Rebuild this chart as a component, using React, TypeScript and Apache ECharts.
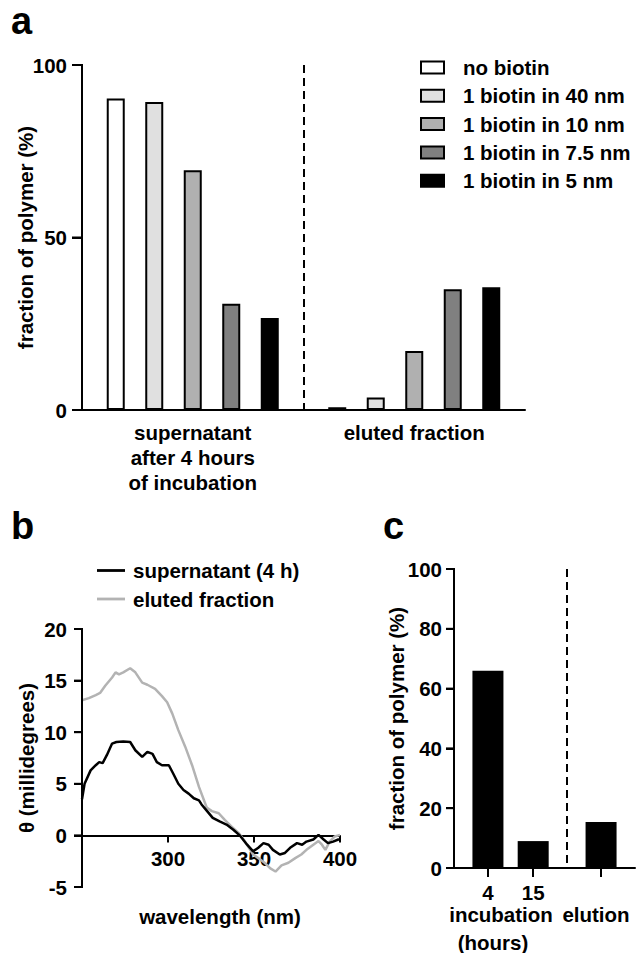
import React, { useEffect, useRef } from 'react';
import * as echarts from 'echarts';

// ---------- panel a ----------
const aCategories = ['supernatant\nafter 4 hours\nof incubation', 'eluted fraction'];
const aSeriesNames = ['no biotin', '1 biotin in 40 nm', '1 biotin in 10 nm', '1 biotin in 7.5 nm', '1 biotin in 5 nm'];
const aNoBiotin = [90.3, 0.8];
const aBiotin40 = [89.3, 3.6];
const aBiotin10 = [69.5, 17.1];
const aBiotin75 = [30.8, 35.0];
const aBiotin5 = [26.7, 35.6];
const aColors = ['#ffffff', '#e0e0e0', '#b0b0b0', '#808080', '#000000'];
const aYTicks = [0, 50, 100];

// ---------- panel b ----------
const bSuperName = 'supernatant (4 h)';
const bElutedName = 'eluted fraction';
const bSuperWl = [250, 251.5, 255, 258, 260, 262, 264.5, 267.5, 270, 274, 278, 281, 285, 288, 291, 293.5, 296.5, 300.5, 303, 306, 309, 312, 315, 318, 319.5, 322.5, 326, 330, 334, 338, 342, 346, 349.5, 352.5, 355.5, 358.5, 361, 365, 368, 371, 375, 378, 380.5, 384.5, 387.5, 390.5, 393, 396, 399, 400];
const bSuperVal = [3.5, 5.0, 6.3, 6.8, 7.1, 7.0, 7.8, 8.9, 9.05, 9.1, 9.05, 8.25, 7.6, 8.1, 7.9, 7.1, 6.8, 6.8, 6.0, 5.0, 4.4, 4.05, 3.6, 3.4, 3.0, 2.4, 1.7, 1.35, 1.05, 0.55, -0.05, -0.9, -1.55, -1.2, -0.75, -0.9, -1.4, -1.85, -1.7, -1.2, -0.75, -0.9, -0.6, -0.4, 0.05, -0.4, -0.75, -0.6, -0.4, -0.4];
const bElutedWl = [250, 254, 258, 260.5, 263.5, 267.5, 269.5, 271.5, 274, 278, 281, 285, 288, 292.5, 296.5, 299.5, 302.5, 306, 310, 314, 318, 322.5, 325.5, 329.5, 333, 337, 341, 344, 346.5, 349.5, 352.5, 356.5, 359.5, 362.5, 366, 370, 374, 377.5, 380.5, 384.5, 387.5, 389.5, 391.5, 394, 397, 400];
const bElutedVal = [13.1, 13.3, 13.6, 13.8, 14.5, 15.3, 15.8, 15.6, 15.8, 16.2, 15.8, 14.8, 14.6, 14.2, 13.5, 12.9, 11.8, 10.2, 8.6, 6.8, 4.7, 2.7, 2.35, 2.15, 1.5, 0.85, 0.25, -0.4, -1.05, -1.85, -2.2, -2.7, -3.2, -3.5, -2.9, -2.65, -2.2, -1.85, -1.4, -0.9, -0.55, -0.9, -1.4, -0.6, -0.1, 0.05];
const bYTicks = [-5, 0, 5, 10, 15, 20];

// ---------- panel c ----------
const cSlots = ['s0', 's1', 's2', 's3', 's4', 's5', 's6', 's7'];
const cTickLabels = ['', '4', '', '15', '', '', '', ''];
const cValues: (number | string)[] = ['-', 66, '-', 9, '-', '-', 15.4, '-'];
const cTickSlots = [1, 3, 6];
const cYTicks = [0, 20, 40, 60, 80, 100];

const FONT = 'Liberation Sans, Arial, Helvetica, sans-serif';
const FS = 20.5;
const T = 'black';
const CLEAR = 'rgba(0,0,0,0)';

const txt = { fontFamily: FONT, fontSize: FS, fontWeight: 'bold' as const, color: T };

// grid geometry (layout, not data)
const GA = { left: 82, top: 65, width: 443, height: 345 };
const GB = { left: 82, top: 629, width: 258, height: 258 };
const GC = { left: 454, top: 569, width: 181, height: 299 };

export default function App() {
  const ref = useRef<HTMLDivElement>(null);
  useEffect(() => {
    document.body.style.margin = '0';
    const chart = echarts.init(ref.current!, null, { renderer: 'svg' });
    const xLine = { show: true, onZero: false, lineStyle: { color: T, width: 2 } };
    const yLine = { show: true, lineStyle: { color: T, width: 2 } };
    const bMin = bYTicks[0];
    const bMax = bYTicks[bYTicks.length - 1];
    const bZeroOffset = -((0 - bMin) / (bMax - bMin)) * GB.height;

    // y-axis lines + ticks, positioned by each axis' linear scale over its grid
    const yAxisGraphics = (g: { left: number; top: number; height: number }, ticks: number[], tickLen: number) => {
      const min = ticks[0];
      const max = ticks[ticks.length - 1];
      const toY = (v: number) => g.top + ((max - v) / (max - min)) * g.height;
      const out: any[] = [
        {
          type: 'line',
          z: 1000,
          silent: true,
          shape: { x1: g.left, y1: toY(max) - 1, x2: g.left, y2: toY(min) + 1 },
          style: { stroke: '#000000', lineWidth: 2 },
        },
      ];
      ticks.forEach((t) =>
        out.push({
          type: 'line',
          z: 1000,
          silent: true,
          shape: { x1: g.left - tickLen, y1: toY(t), x2: g.left, y2: toY(t) },
          style: { stroke: '#000000', lineWidth: 2 },
        })
      );
      return out;
    };

    const rotatedName = (text: string, x: number, y: number) => ({
      type: 'text',
      x,
      y,
      rotation: Math.PI / 2,
      style: { text, font: `bold ${FS}px ${FONT}`, fill: '#000000', align: 'center', verticalAlign: 'middle' },
    });

    const graphics: any[] = [
      { type: 'text', left: 11, top: 2, style: { text: 'a', font: `bold 38px ${FONT}`, fill: '#000000' } },
      { type: 'text', left: 11, top: 507, style: { text: 'b', font: `bold 38px ${FONT}`, fill: '#000000' } },
      { type: 'text', left: 383, top: 507, style: { text: 'c', font: `bold 38px ${FONT}`, fill: '#000000' } },
      {
        type: 'text',
        x: 501,
        y: 914,
        style: { text: 'incubation', font: `bold ${FS}px ${FONT}`, fill: '#000000', align: 'center', verticalAlign: 'middle' },
      },
      {
        type: 'text',
        x: 596,
        y: 914,
        style: { text: 'elution', font: `bold ${FS}px ${FONT}`, fill: '#000000', align: 'center', verticalAlign: 'middle' },
      },
      {
        type: 'text',
        x: 493,
        y: 942,
        style: { text: '(hours)', font: `bold ${FS}px ${FONT}`, fill: '#000000', align: 'center', verticalAlign: 'middle' },
      },
      rotatedName('fraction of polymer (%)', 25, GA.top + GA.height / 2),
      rotatedName('θ (millidegrees)', 26, GB.top + GB.height / 2),
      rotatedName('fraction of polymer (%)', 396, GC.top + GC.height / 2),
      ...yAxisGraphics(GA, aYTicks, 10),
      ...yAxisGraphics(GB, bYTicks, 8),
      ...yAxisGraphics(GC, cYTicks, 8),
    ];

    const option: any = {
      animation: false,
      backgroundColor: '#ffffff',
      textStyle: { fontFamily: FONT },
      grid: [
        { ...GA, containLabel: false, outerBoundsMode: 'none' },
        { ...GB, containLabel: false, outerBoundsMode: 'none' },
        { ...GC, containLabel: false, outerBoundsMode: 'none' },
      ],
      legend: [
        {
          data: aSeriesNames,
          orient: 'vertical',
          left: 420,
          top: 57,
          padding: 0,
          itemWidth: 23,
          itemHeight: 12,
          itemGap: 7.3,
          icon: 'rect',
          selectedMode: false,
          textStyle: { ...txt, lineHeight: 20, padding: [0, 0, 0, 14] },
        },
        {
          data: [bSuperName, bElutedName],
          orient: 'vertical',
          left: 97,
          top: 560,
          padding: 0,
          itemWidth: 28,
          itemHeight: 2.8,
          itemGap: 7.5,
          icon: 'rect',
          selectedMode: false,
          textStyle: { ...txt, lineHeight: 20, padding: [0, 0, 0, 3] },
        },
      ],
      xAxis: [
        {
          type: 'category',
          gridIndex: 0,
          data: aCategories,
          axisLine: xLine,
          axisTick: { show: false },
          axisLabel: { ...txt, interval: 0, margin: 10, lineHeight: 25 },
          splitLine: {
            show: true,
            interval: 0,
            lineStyle: { color: [CLEAR, T, CLEAR], width: 2, type: [8, 5] },
          },
        },
        {
          type: 'value',
          gridIndex: 1,
          position: 'bottom',
          offset: bZeroOffset,
          min: 250,
          max: 400,
          interval: 50,
          axisLine: xLine,
          axisTick: { show: true, length: 7, lineStyle: { color: T, width: 2 } },
          axisLabel: { ...txt, margin: 13, showMinLabel: false },
          splitLine: { show: false },
          name: 'wavelength (nm)',
          nameLocation: 'middle',
          nameGap: 71,
          nameMoveOverlap: false,
          nameTextStyle: { ...txt, padding: [0, 0, 0, 18] },
        },
        {
          type: 'category',
          gridIndex: 2,
          data: cSlots,
          axisLine: xLine,
          axisTick: {
            show: true,
            alignWithLabel: true,
            length: 9,
            interval: (i: number) => cTickSlots.includes(i),
            lineStyle: { color: T, width: 2 },
          },
          axisLabel: {
            ...txt,
            interval: 0,
            margin: 14,
            lineHeight: 20,
            formatter: (_v: string, i: number) => cTickLabels[i],
          },
          splitLine: {
            show: true,
            interval: 0,
            lineStyle: {
              color: [CLEAR, CLEAR, CLEAR, CLEAR, CLEAR, T, CLEAR, CLEAR, CLEAR],
              width: 2,
              type: [8, 5],
            },
          },
        },
      ],
      yAxis: [
        {
          type: 'value',
          gridIndex: 0,
          min: aYTicks[0],
          max: aYTicks[aYTicks.length - 1],
          interval: 50,
          axisLine: yLine,
          axisTick: { show: true, length: 10, lineStyle: { color: T, width: 2 } },
          axisLabel: { ...txt, margin: 15 },
          splitLine: { show: false },
        },
        {
          type: 'value',
          gridIndex: 1,
          min: bMin,
          max: bMax,
          interval: 5,
          axisLine: { ...yLine, onZero: false },
          axisTick: { show: true, length: 8, lineStyle: { color: T, width: 2 } },
          axisLabel: { ...txt, margin: 15 },
          splitLine: { show: false },
        },
        {
          type: 'value',
          gridIndex: 2,
          min: cYTicks[0],
          max: cYTicks[cYTicks.length - 1],
          interval: 20,
          axisLine: yLine,
          axisTick: { show: true, length: 8, lineStyle: { color: T, width: 2 } },
          axisLabel: { ...txt, margin: 12 },
          splitLine: { show: false },
        },
      ],
      series: [
        ...[aNoBiotin, aBiotin40, aBiotin10, aBiotin75, aBiotin5].map((d, i) => ({
          type: 'bar',
          name: aSeriesNames[i],
          xAxisIndex: 0,
          yAxisIndex: 0,
          data: d,
          barWidth: 18,
          barGap: '113.9%',
          itemStyle: { color: aColors[i], borderColor: '#000000', borderWidth: 2 },
        })),
        {
          type: 'line',
          name: bElutedName,
          xAxisIndex: 1,
          yAxisIndex: 1,
          data: bElutedWl.map((w, i) => [w, bElutedVal[i]]),
          symbol: 'none',
          color: '#b3b3b3',
          lineStyle: { color: '#b3b3b3', width: 2.5 },
        },
        {
          type: 'line',
          name: bSuperName,
          xAxisIndex: 1,
          yAxisIndex: 1,
          data: bSuperWl.map((w, i) => [w, bSuperVal[i]]),
          symbol: 'none',
          color: '#000000',
          lineStyle: { color: '#000000', width: 2.5 },
        },
        {
          type: 'bar',
          name: 'c',
          xAxisIndex: 2,
          yAxisIndex: 2,
          data: cValues,
          barWidth: 31,
          itemStyle: { color: '#000000' },
        },
      ],
      graphic: graphics,
    };
    chart.setOption(option);
    return () => chart.dispose();
  }, []);
  return <div ref={ref} style={{ width: 641, height: 953 }} />;
}
